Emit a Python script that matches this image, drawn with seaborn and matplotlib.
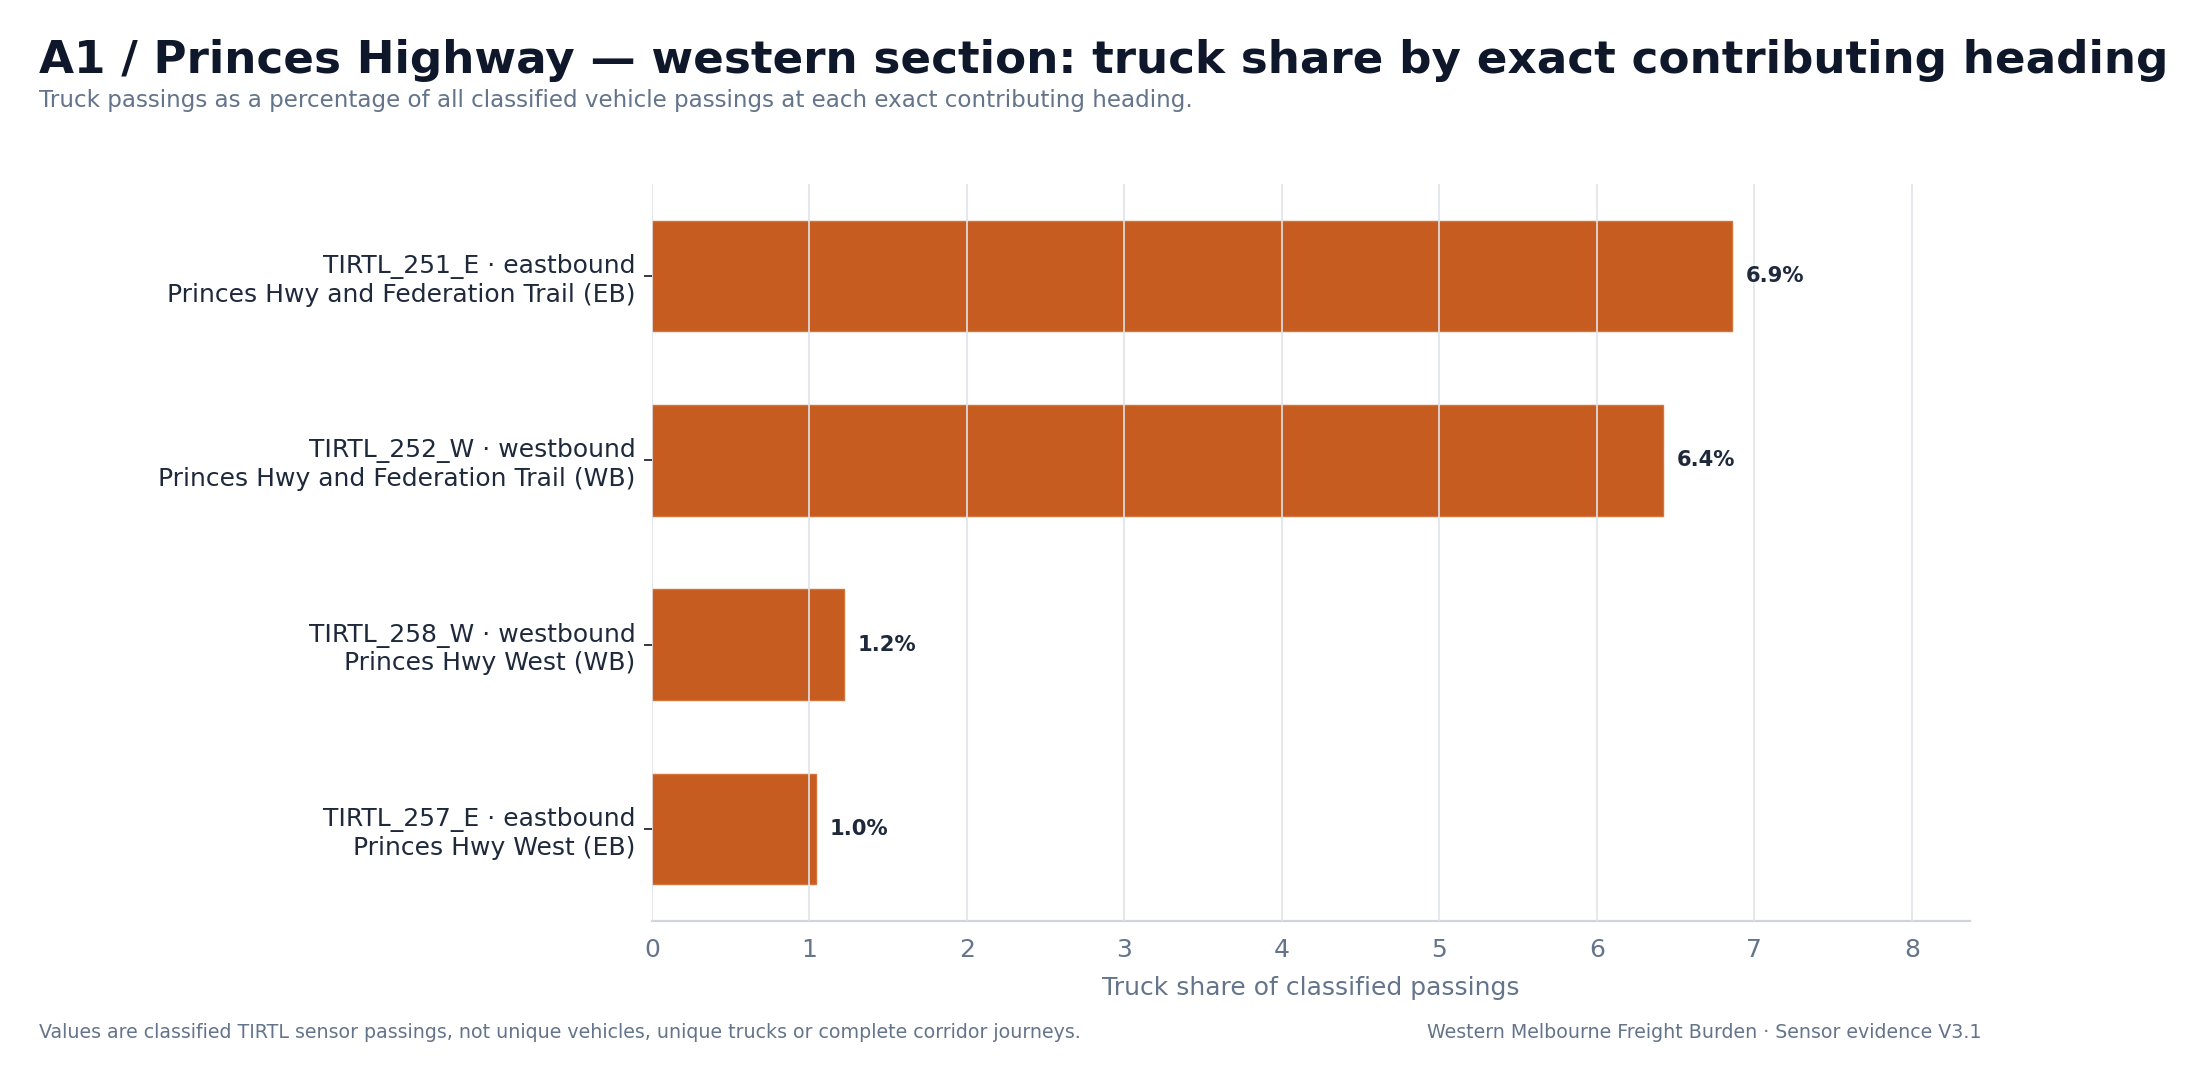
import pandas as pd
import matplotlib
matplotlib.use("Agg")
import matplotlib.pyplot as plt
import seaborn as sns

# chart data
headings = [
    "TIRTL_251_E · eastbound\nPrinces Hwy and Federation Trail (EB)",
    "TIRTL_252_W · westbound\nPrinces Hwy and Federation Trail (WB)",
    "TIRTL_258_W · westbound\nPrinces Hwy West (WB)",
    "TIRTL_257_E · eastbound\nPrinces Hwy West (EB)",
]
truck_share = [6.86, 6.42, 1.22, 1.04]

df = pd.DataFrame({"heading": headings, "share": truck_share})

sns.set_theme(style="white")
plt.rcParams["font.family"] = ["DejaVu Sans"]

DARK = "#0f172a"
SLATE = "#64748b"
BAR = "#c65c1f"

fig = plt.figure(figsize=(11.02, 5.415), dpi=200)
ax = fig.add_axes([0.2958, 0.1496, 0.598, 0.6804])

sns.barplot(data=df, x="share", y="heading", color=BAR, saturation=1,
            width=0.6, edgecolor="#d4733a", linewidth=0.5, ax=ax)

ax.set_xlim(0, max(truck_share) * 1.22)
ax.set_ylim(3.5, -0.5)
ax.set_xticks(range(0, 9))

# grid drawn over the bars
ax.set_axisbelow(False)
ax.grid(axis="x", color="#dfe3ea", linewidth=0.6)
ax.grid(axis="y", visible=False)

for side in ["top", "right", "left"]:
    ax.spines[side].set_visible(False)
ax.spines["bottom"].set_color("#d1d5db")
ax.spines["bottom"].set_linewidth(0.8)

ax.tick_params(axis="x", colors="#475569", labelcolor=SLATE, labelsize=9,
               length=3, width=0.5, pad=3)
ax.tick_params(axis="y", colors=DARK, labelcolor="#1e293b", labelsize=9,
               length=3, width=0.6, pad=3, left=True)

ax.set_ylabel("")
ax.set_xlabel("Truck share of classified passings", color=SLATE,
              fontsize=9, labelpad=5)

for i, v in enumerate(truck_share):
    ax.annotate(f"{v:.1f}%", xy=(v, i), xytext=(5, 0),
                textcoords="offset points", va="center", ha="left",
                fontsize=7.6, fontweight="bold", color="#1e293b")

fig.text(0.0177, 0.9326, "A1 / Princes Highway — western section: truck share by exact contributing heading",
         fontsize=16.3, fontweight="bold", color=DARK, ha="left", va="baseline")
fig.text(0.0177, 0.901, "Truck passings as a percentage of all classified vehicle passings at each exact contributing heading.",
         fontsize=8.3, color=SLATE, ha="left", va="baseline")

fig.text(0.0177, 0.0417, "Values are classified TIRTL sensor passings, not unique vehicles, unique trucks or complete corridor journeys.",
         fontsize=6.87, color=SLATE, ha="left", va="baseline")
fig.text(0.899, 0.0417, "Western Melbourne Freight Burden · Sensor evidence V3.1",
         fontsize=6.87, color=SLATE, ha="right", va="baseline")

fig.savefig("out.png", dpi=200, facecolor="white")
